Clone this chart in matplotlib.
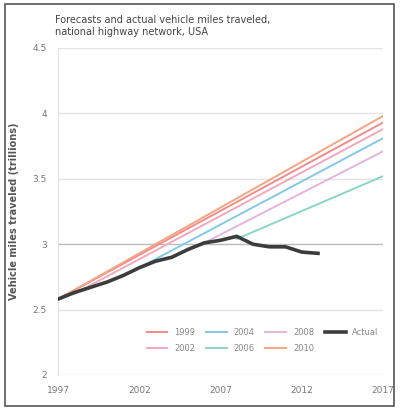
import matplotlib
matplotlib.use("Agg")
import matplotlib.pyplot as plt
from matplotlib.patches import Rectangle

# ---- data ----
actual_years = [1997, 1998, 1999, 2000, 2001, 2002, 2003, 2004, 2005, 2006, 2007, 2008, 2009, 2010, 2011, 2012, 2013]
actual_vmt = [2.58, 2.63, 2.67, 2.71, 2.76, 2.82, 2.87, 2.90, 2.96, 3.01, 3.03, 3.06, 3.00, 2.98, 2.98, 2.94, 2.93]

forecast_labels = ["1999", "2002", "2004", "2006", "2008", "2010"]
forecast_start_year = [1997, 1997, 1998, 2002, 2006, 2008]
forecast_start_val = [2.58, 2.58, 2.62, 2.82, 3.01, 3.04]
forecast_end_year = [2017, 2017, 2017, 2017, 2017, 2017]
forecast_end_val = [3.93, 3.98, 3.88, 3.81, 3.71, 3.52]
forecast_colors = ["#f08c8c", "#f4a582", "#f4a8bc", "#84c8e8", "#e6b4da", "#8ad6c6"]
legend_order = [0, 2, 3, 5, 4, 1]

y_ticks = [2, 2.5, 3, 3.5, 4, 4.5]
x_ticks = [1997, 2002, 2007, 2012, 2017]

title_text = "Forecasts and actual vehicle miles traveled,\nnational highway network, USA"
y_label = "Vehicle miles traveled (trillions)"

# ---- figure ----
fig = plt.figure(figsize=(4.03, 4.08), dpi=100)
fig.patch.set_facecolor("white")
fig.add_artist(Rectangle((5 / 403, 2 / 408), 389 / 403, 402 / 408, transform=fig.transFigure,
                         fill=False, edgecolor="#555555", linewidth=1.2))

ax = fig.add_axes([58 / 403, 1 - 375 / 408, 325 / 403, 327 / 408])
ax.set_xlim(1997, 2017)
ax.set_ylim(2, 4.5)

for yv in y_ticks:
    ax.axhline(yv, color="#bbbbbb" if yv == 3 else "#e4e4e4", linewidth=1.0, zorder=0)

lines = []
for lab, sy, sv, ey, ev, col in zip(forecast_labels, forecast_start_year, forecast_start_val,
                                    forecast_end_year, forecast_end_val, forecast_colors):
    h, = ax.plot([sy, ey], [sv, ev], color=col, linewidth=1.4, zorder=2)
    lines.append(h)
ha, = ax.plot(actual_years, actual_vmt, color="#3c3c3c", linewidth=2.6, zorder=3)

handles = [lines[i] for i in legend_order] + [ha]
labels = forecast_labels + ["Actual"]

for s in ["top", "right", "bottom"]:
    ax.spines[s].set_visible(False)
ax.spines["left"].set_color("#e0e0e0")

ax.set_yticks(y_ticks)
ax.set_yticklabels([f"{v:g}" for v in y_ticks])
ax.set_xticks(x_ticks)
ax.set_xticklabels([str(v) for v in x_ticks])
ax.tick_params(axis="both", length=0, labelsize=6.5, colors="#777777")
ax.tick_params(axis="y", pad=8)
ax.tick_params(axis="x", pad=8)

ax.set_ylabel(y_label, fontsize=7, color="#555555", fontweight="bold", labelpad=10)

fig.text(55 / 403, 1 - 15 / 408, title_text, fontsize=7, color="#444444", va="top", ha="left",
         linespacing=1.3)

leg = ax.legend(handles=handles, labels=labels, ncol=4, loc="lower right",
                bbox_to_anchor=(1.01, 0.045), frameon=False, fontsize=6,
                handlelength=2.5, columnspacing=1.3, labelspacing=0.8,
                labelcolor="#888888")

fig.savefig("out.png", dpi=100, facecolor="white")
